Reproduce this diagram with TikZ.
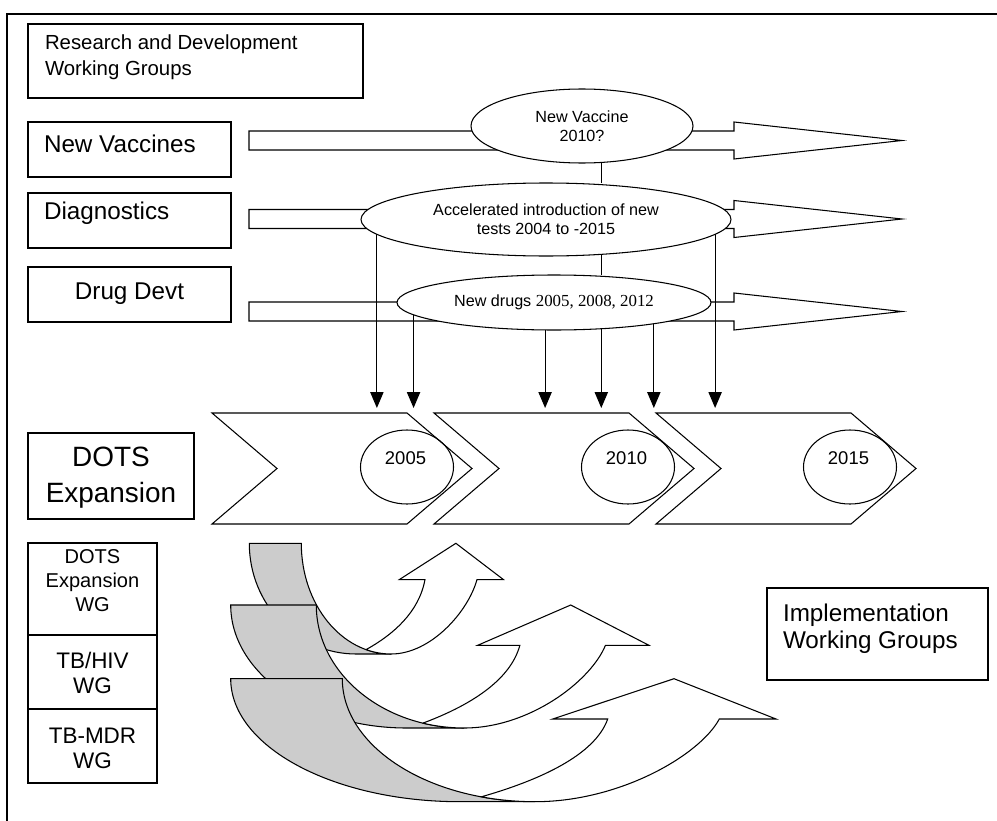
\documentclass[tikz,border=0pt]{standalone}
\usepackage{fontspec}
\setmainfont{Liberation Sans}
\newfontfamily\timesfont{Liberation Serif}
\usetikzlibrary{arrows.meta,calc,positioning,shapes.geometric}

\newcommand{\pxu}{0.02cm}

\tikzset{
frame/.style={
  line width=1.3pt,
  }
}
\tikzset{
wgbox/.style={
  draw,
  rectangle,
  line width=0.7pt,
  inner sep=0pt,
  outer sep=0pt,
  }
}
\tikzset{
boxtxt/.style={
  inner sep=0pt,
  outer sep=0pt,
  align=left,
  }
}
\tikzset{
ell/.style={
  ellipse,
  draw,
  fill=white,
  line width=0.6pt,
  inner sep=0pt,
  outer sep=0pt,
  align=center,
  font=\fontsize{9.2}{10.8}\selectfont,
  }
}
\tikzset{
yearell/.style={
  ellipse,
  draw,
  line width=0.6pt,
  inner sep=0pt,
  outer sep=0pt,
  minimum width=93*\pxu,
  minimum height=74*\pxu,
  }
}
\tikzset{
blockarrow/.style={
  draw,
  fill=white,
  line width=0.6pt,
  }
}
\tikzset{
chevron/.style={
  draw,
  fill=white,
  line width=0.6pt,
  }
}
\tikzset{
conn/.style={
  line width=0.6pt,
  }
}
\tikzset{
downarrow/.style={
  line width=0.6pt,
  -{Triangle[length=9pt,width=7.5pt]}
  }
}
\tikzset{
backside/.style={
  draw,
  fill=black!20,
  line width=0.6pt,
  }
}
\tikzset{
frontside/.style={
  draw,
  fill=white,
  line width=0.6pt,
  }
}
\tikzset{
curvup/.pic={
  \draw[backside] (0,0) -- (111.6,0)
    arc[start angle=180, end angle=90, x radius=192.7, y radius=123]
    -- (229.3,123)
    arc[start angle=90, end angle=180, x radius=229.3, y radius=123] -- cycle;
  \draw[frontside] (251,118) .. controls (309.3,101.3) and (364.3,76.3) .. (377,40.3)
    -- (322,40.3) -- (443.3,0) -- (545.3,40.3) -- (488.6,40.3)
    .. controls (469.3,76.3) and (389.3,123) .. (304.3,123)
    arc[start angle=90, end angle=106.1, x radius=192.7, y radius=123] -- cycle;
  }
}

\begin{document}
\begin{tikzpicture}[x=0.02cm, y=-0.02cm]
    \useasboundingbox (0,0) rectangle (997,821);
    \draw[frame] (7,840) -- (7,14) -- (1010,14);

    % research part
    \node[wgbox, minimum width=335*\pxu, minimum height=74*\pxu] (rnd) at (195.5,61) {};
    \node[boxtxt, anchor=base west, font=\fontsize{11.6}{14.8}\selectfont] (rndtxt) at (45,76) {Research and Development\\Working Groups};
    \node[wgbox, minimum width=203*\pxu, minimum height=55*\pxu] (vacbox) at (129.5,149.5) {};
    \node[boxtxt, anchor=base west, font=\fontsize{13.8}{16}\selectfont] (vactxt) at (44,152.4) {New Vaccines};
    \node[wgbox, minimum width=203*\pxu, minimum height=55*\pxu] (diabox) at (129.5,220.5) {};
    \node[boxtxt, anchor=base west, font=\fontsize{13.8}{16}\selectfont] (diatxt) at (44,219) {Diagnostics};
    \node[wgbox, minimum width=203*\pxu, minimum height=55*\pxu] (drgbox) at (129.5,294.5) {};
    \node[boxtxt, anchor=base, font=\fontsize{13.8}{16}\selectfont] (drgtxt) at (129.5,299) {Drug Devt};

    % block arrows
    \foreach \yy in {140.5,219,311.5}
      \draw[blockarrow] (249,\yy-9.5) -- (734,\yy-9.5) -- (734,\yy-18.5) -- (902,\yy)
        -- (734,\yy+18.5) -- (734,\yy+9.5) -- (249,\yy+9.5) -- cycle;

    % milestones
    \node[ell, minimum width=222*\pxu, minimum height=74*\pxu] (vacell) at (582,126) {New Vaccine\\2010?};
    \node[ell, minimum width=370*\pxu, minimum height=73*\pxu] (diagell) at (546,219.5) {Accelerated introduction of new\\tests 2004 to -2015};
    \node[ell, minimum width=314*\pxu, minimum height=55*\pxu] (drugell) at (554,302.5) {New drugs {\timesfont\fontsize{9.6}{11}\selectfont 2005, 2008, 2012}};

    \draw[conn] (vacell.298) -- (vacell.298 |- diagell.north);
    \draw[conn] (diagell.328) -- (diagell.328 |- drugell.north);

    \coordinate (chevtop) at (0,408);
    \foreach \a in {185,355}
      \draw[downarrow] (diagell.\a) -- (diagell.\a |- chevtop);
    \foreach \a in {185,252,331,348}
      \draw[downarrow] (drugell.\a) -- (drugell.\a |- chevtop);

    % DOTS expansion
    \node[wgbox, minimum width=166*\pxu, minimum height=86*\pxu] (dots) at (111,476) {};
    \node[boxtxt, align=center, anchor=base, font=\fontsize{15.9}{20.4}\selectfont] (dotstxt) at (111,502.7) {DOTS\\Expansion};

    \foreach \cx in {212,434,656}
      \draw[chevron] (\cx,413) -- ++(195,0) -- ++(65,55.5) -- ++(-65,55.5) -- ++(-195,0) -- ++(65,-55.5) -- cycle;

    \foreach \cx/\yr in {407/2005,628/2010,850/2015} {
      \node[yearell] (y\yr) at (\cx,467) {};
      \node[boxtxt, anchor=base, font=\fontsize{10.5}{12}\selectfont] (y\yr txt) at (\cx-1.5,464) {\yr};
    }

    % implementation part
    \pic[xscale=0.466, yscale=0.9] at (249.3,543.3) {curvup};
    \pic[xscale=0.767] at (230.7,605) {curvup};
    \pic at (230.7,678.7) {curvup};

    \node[wgbox, minimum width=129*\pxu, minimum height=92*\pxu] (dotswg) at (92.5,589) {};
    \node[boxtxt, align=center, anchor=base, font=\fontsize{11.4}{13.5}\selectfont] (dotswgtxt) at (92.5,611) {DOTS\\Expansion\\WG};
    \node[wgbox, minimum width=129*\pxu, minimum height=74*\pxu] (tbhiv) at (92.5,672) {};
    \node[boxtxt, align=center, anchor=base, font=\fontsize{12.8}{14.2}\selectfont] (tbhivtxt) at (92.5,693.5) {TB/HIV\\WG};
    \node[wgbox, minimum width=129*\pxu, minimum height=74*\pxu] (tbmdr) at (92.5,746) {};
    \node[boxtxt, align=center, anchor=base, font=\fontsize{12.8}{14.2}\selectfont] (tbmdrtxt) at (92.5,768.5) {TB-MDR\\WG};

    \node[wgbox, minimum width=221*\pxu, minimum height=92*\pxu] (impl) at (877.5,634) {};
    \node[boxtxt, anchor=base west, font=\fontsize{13.8}{15.2}\selectfont] (impltxt) at (783,648) {Implementation\\Working Groups};
\end{tikzpicture}
\end{document}
